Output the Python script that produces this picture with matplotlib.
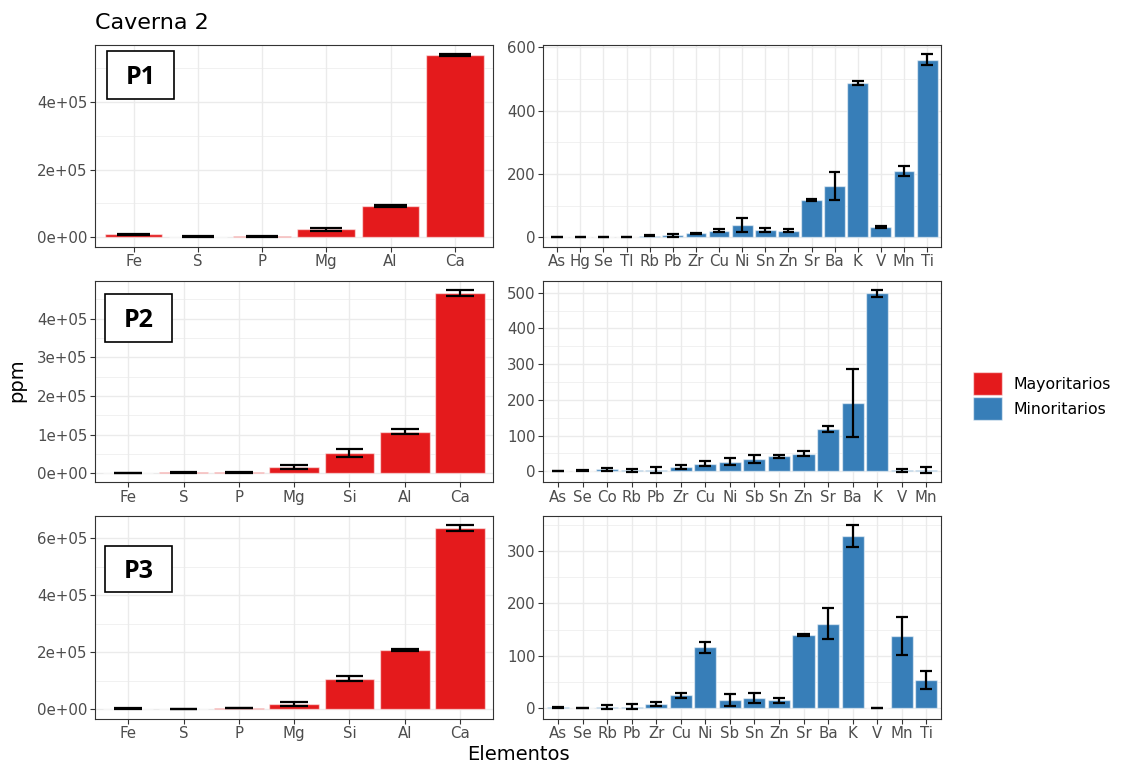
import matplotlib.pyplot as plt
from matplotlib.patches import Patch, Rectangle
from matplotlib.ticker import FixedLocator, AutoMinorLocator, FuncFormatter
import numpy as np

# Elementos mayoritarios por punto de muestreo (ppm, media y desviacion)
may_p1_el = ['Fe', 'S', 'P', 'Mg', 'Al', 'Ca']
may_p1_val = [9000, 2000, 2500, 23500, 92000, 539000]
may_p1_err = [1500, 500, 500, 5000, 3000, 3000]

may_p2_el = ['Fe', 'S', 'P', 'Mg', 'Si', 'Al', 'Ca']
may_p2_val = [500, 2000, 2000, 16500, 52000, 107500, 465500]
may_p2_err = [300, 500, 500, 5500, 10000, 6500, 8000]

may_p3_el = ['Fe', 'S', 'P', 'Mg', 'Si', 'Al', 'Ca']
may_p3_val = [2300, 500, 4700, 18500, 107500, 209000, 636000]
may_p3_err = [1000, 300, 1000, 6000, 8500, 3000, 9500]

# Elementos minoritarios
min_p1_el = ['As', 'Hg', 'Se', 'Tl', 'Rb', 'Pb', 'Zr', 'Cu', 'Ni', 'Sn', 'Zn',
             'Sr', 'Ba', 'K', 'V', 'Mn', 'Ti']
min_p1_val = [1, 2, 2, 1, 5, 6, 12.5, 21, 38, 23, 21, 118, 163, 488, 32, 210, 561]
min_p1_err = [0.5, 0.5, 0.5, 0.5, 1.5, 5, 2, 5, 22, 6, 4, 3, 44, 6, 4, 16, 18]

min_p2_el = ['As', 'Se', 'Co', 'Rb', 'Pb', 'Zr', 'Cu', 'Ni', 'Sb', 'Sn', 'Zn',
             'Sr', 'Ba', 'K', 'V', 'Mn']
min_p2_val = [1, 2, 5.5, 3, 4, 13, 21, 27, 35, 42, 49, 118, 191, 498, 2.5, 3]
min_p2_err = [0.5, 0.5, 4.5, 4, 8, 5, 7, 9, 12, 4, 7, 8, 94.5, 9, 5, 8]

min_p3_el = ['As', 'Se', 'Rb', 'Pb', 'Zr', 'Cu', 'Ni', 'Sb', 'Sn', 'Zn', 'Sr',
             'Ba', 'K', 'V', 'Mn', 'Ti']
min_p3_val = [1.5, 0.5, 2.5, 3, 8, 25, 116, 16, 20, 15, 140.5, 161, 328, 0.3, 138, 54]
min_p3_err = [1, 0.5, 4, 5, 4, 5, 11, 12, 10, 4.5, 2, 29.5, 21, 0.5, 36.5, 17]

puntos = ['P1', 'P2', 'P3']
may_ticks = [[0, 2e5, 4e5], [0, 1e5, 2e5, 3e5, 4e5], [0, 2e5, 4e5, 6e5]]
min_ticks = [[0, 200, 400, 600], [0, 100, 200, 300, 400, 500], [0, 100, 200, 300]]

ROJO = '#E41A1C'
AZUL = '#377EB8'
TXT = '#4D4D4D'

W, H = 1122, 765
fig = plt.figure(figsize=(W / 100, H / 100), dpi=100)


def px_ax(x0, y0, x1, y1):
    # caja de ejes a partir de pixeles (origen arriba a la izquierda)
    return fig.add_axes([x0 / W, 1 - y1 / H, (x1 - x0) / W, (y1 - y0) / H])


def panel(ax, el, val, err, color, ticks, sci):
    x = np.arange(len(el))
    val = np.array(val, dtype=float)
    err = np.array(err, dtype=float)
    ax.bar(x, val, width=0.9, color=color, edgecolor=(1, 1, 1, 0.55),
           linewidth=1.0, zorder=2)
    ax.errorbar(x, val, yerr=err, fmt='none', ecolor='black', elinewidth=1.6,
                capsize=0, zorder=3)
    # tapas de las barras de error (ancho 0.5 como en ggplot)
    ax.hlines(val + err, x - 0.25, x + 0.25, color='black', lw=1.6, zorder=3)
    ax.hlines(val - err, x - 0.25, x + 0.25, color='black', lw=1.6, zorder=3)

    lo = min(0, (val - err).min())
    hi = (val + err).max()
    pad = (hi - lo) * 0.05
    ax.set_ylim(lo - pad, hi + pad)
    ax.set_xlim(-0.6, len(el) - 0.4)

    ax.set_xticks(x)
    ax.set_xticklabels(el)
    ax.yaxis.set_major_locator(FixedLocator(ticks))
    ax.yaxis.set_minor_locator(AutoMinorLocator(2))
    if sci:
        ax.yaxis.set_major_formatter(FuncFormatter(lambda v, p: f'{v:.0e}'))
    else:
        ax.yaxis.set_major_formatter(FuncFormatter(lambda v, p: f'{v:.0f}'))

    ax.set_facecolor('white')
    ax.grid(which='major', color='#EBEBEB', lw=1.0, zorder=0)
    ax.grid(which='minor', axis='y', color='#EBEBEB', lw=0.5, zorder=0)
    ax.set_axisbelow(True)
    for s in ax.spines.values():
        s.set_color('#333333')
        s.set_linewidth(0.8)
    ax.tick_params(which='major', direction='out', length=3.5, width=0.8,
                   color='#333333', labelcolor=TXT, labelsize=10.8, pad=2)
    ax.tick_params(which='minor', length=0)


filas = [(44.7, 246.5), (281, 482.3), (516, 718.5)]
mayor = [(may_p1_el, may_p1_val, may_p1_err),
         (may_p2_el, may_p2_val, may_p2_err),
         (may_p3_el, may_p3_val, may_p3_err)]
menor = [(min_p1_el, min_p1_val, min_p1_err),
         (min_p2_el, min_p2_val, min_p2_err),
         (min_p3_el, min_p3_val, min_p3_err)]
cajas = [(106.7, 51, 174.3, 99), (105, 294, 172.3, 341.7), (105, 545.7, 172.3, 591.7)]

for i in range(3):
    y0, y1 = filas[i]
    axl = px_ax(95, y0, 493.3, y1)
    panel(axl, *mayor[i], ROJO, may_ticks[i], True)
    axr = px_ax(543.3, y0, 941, y1)
    panel(axr, *menor[i], AZUL, min_ticks[i], False)

    # etiqueta del punto de muestreo
    bx0, by0, bx1, by1 = cajas[i]
    fig.patches.append(Rectangle((bx0 / W, 1 - by1 / H), (bx1 - bx0) / W,
                                 (by1 - by0) / H, transform=fig.transFigure,
                                 facecolor='white', edgecolor='black', lw=1.2,
                                 zorder=5))
    fig.text((bx0 + bx1) / 2 / W, 1 - ((by0 + by1) / 2 + 3) / H, puntos[i],
             ha='center', va='center', fontsize=18, fontweight='bold',
             family='Open Sans', zorder=6)

fig.text(95 / W, 1 - 29 / H, 'Caverna 2', fontsize=16, ha='left',
         va='baseline')
fig.text(17 / W, 1 - 380 / H, 'ppm', fontsize=14, rotation=90, ha='center',
         va='center')
fig.text(518 / W, 1 - 754 / H, 'Elementos', fontsize=14, ha='center',
         va='center')

handles = [Patch(facecolor=ROJO, edgecolor=(1, 1, 1, 0.55)),
           Patch(facecolor=AZUL, edgecolor=(1, 1, 1, 0.55))]
fig.legend(handles, ['Mayoritarios', 'Minoritarios'], loc='center left',
           bbox_to_anchor=(973 / W, 1 - 396 / H), frameon=False, fontsize=11.3,
           handlelength=1.85, handleheight=1.85, labelspacing=0.15,
           handletextpad=0.7, borderpad=0, borderaxespad=0)

fig.savefig('out.png', dpi=100)
